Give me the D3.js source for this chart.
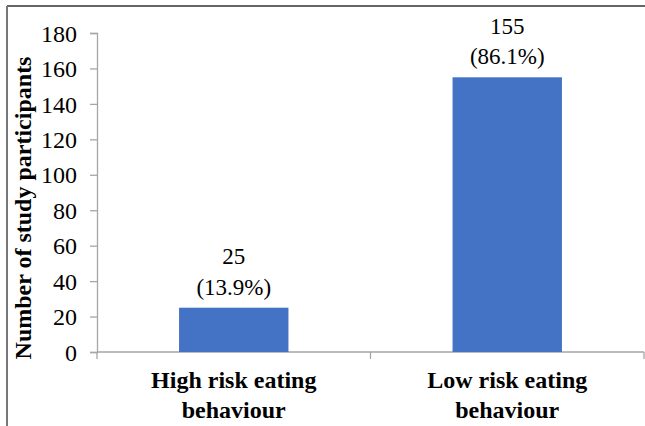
<!DOCTYPE html>
<html>
<head>
<meta charset="utf-8">
<script src="https://cdn.jsdelivr.net/npm/d3@7"></script>
<style>
  html, body { margin: 0; padding: 0; background: #fff; }
  svg { display: block; }
  text { font-family: "Liberation Serif", "Times New Roman", serif; fill: #000; }
</style>
</head>
<body>
<script>
// Eating behaviour risk groups and participant counts
const categories = ["High risk eating behaviour", "Low risk eating behaviour"];
const categoryLines = [["High risk eating", "behaviour"], ["Low risk eating", "behaviour"]];
const counts = [25, 155];
const percents = ["13.9%", "86.1%"];
const yTicks = [0, 20, 40, 60, 80, 100, 120, 140, 160, 180];

const W = 645, H = 426;
const svg = d3.select("body").append("svg").attr("width", W).attr("height", H);

// frame around the figure
svg.append("line").attr("x1", 7).attr("x2", W).attr("y1", 6).attr("y2", 6)
  .attr("stroke", "#333").attr("stroke-width", 1.5);
svg.append("line").attr("x1", 7).attr("x2", 7).attr("y1", 6).attr("y2", H)
  .attr("stroke", "#777").attr("stroke-width", 2);

const plot = { left: 97, right: 644, top: 33, bottom: 352 };

const x = d3.scaleBand().domain(categories).range([plot.left, plot.right])
  .paddingInner(0.6).paddingOuter(0.3);
const y = d3.scaleLinear().domain([0, 180]).range([plot.bottom, plot.top]);

// y axis
const yAxis = svg.append("g").attr("transform", `translate(${plot.left},0)`)
  .call(d3.axisLeft(y).tickValues(yTicks).tickSize(7).tickPadding(13));
yAxis.select(".domain").attr("stroke", "#a6a6a6").attr("stroke-width", 1.3);
yAxis.selectAll(".tick line").attr("stroke", "#a6a6a6").attr("stroke-width", 1.3);
yAxis.selectAll(".tick text").style("font-size", "24px")
  .style("font-family", "'Liberation Serif', serif").attr("fill", "#000").attr("dy", "0.34em");

// x axis baseline with category separators
const xAxisG = svg.append("g");
xAxisG.append("line").attr("x1", plot.left).attr("x2", plot.right)
  .attr("y1", y(0)).attr("y2", y(0)).attr("stroke", "#a6a6a6").attr("stroke-width", 1.3);
const bounds = [plot.left, plot.left + (plot.right - plot.left) / 2, plot.right];
xAxisG.selectAll("line.sep").data(bounds).enter().append("line").attr("class", "sep")
  .attr("x1", d => d).attr("x2", d => d)
  .attr("y1", y(0)).attr("y2", y(0) + 7)
  .attr("stroke", "#a6a6a6").attr("stroke-width", 1.3);

// bars
svg.selectAll("rect.bar").data(counts).enter().append("rect").attr("class", "bar")
  .attr("x", (d, i) => x(categories[i]))
  .attr("width", x.bandwidth())
  .attr("y", d => y(d))
  .attr("height", d => y(0) - y(d))
  .attr("fill", "#4472c4");

// value labels: count and share
const lbl = svg.selectAll("g.lbl").data(counts).enter().append("g").attr("class", "lbl")
  .attr("transform", (d, i) => `translate(${x(categories[i]) + x.bandwidth() / 2},${y(d)})`);
lbl.append("text").attr("text-anchor", "middle").attr("y", -43.5)
  .style("font-size", "23px").text(d => d);
lbl.append("text").attr("text-anchor", "middle").attr("y", -13)
  .style("font-size", "23px").text((d, i) => `(${percents[i]})`);

// category labels
categoryLines.forEach((lines, i) => {
  const cx = x(categories[i]) + x.bandwidth() / 2;
  lines.forEach((t, j) => {
    svg.append("text").attr("x", cx).attr("y", 388 + j * 30)
      .attr("text-anchor", "middle").style("font-size", "24px").style("font-weight", "bold")
      .text(t);
  });
});

// y axis title
svg.append("text")
  .attr("transform", "translate(31,208) rotate(-90)")
  .attr("text-anchor", "middle").style("font-size", "24px").style("font-weight", "bold")
  .text("Number of study participants");
</script>
</body>
</html>
